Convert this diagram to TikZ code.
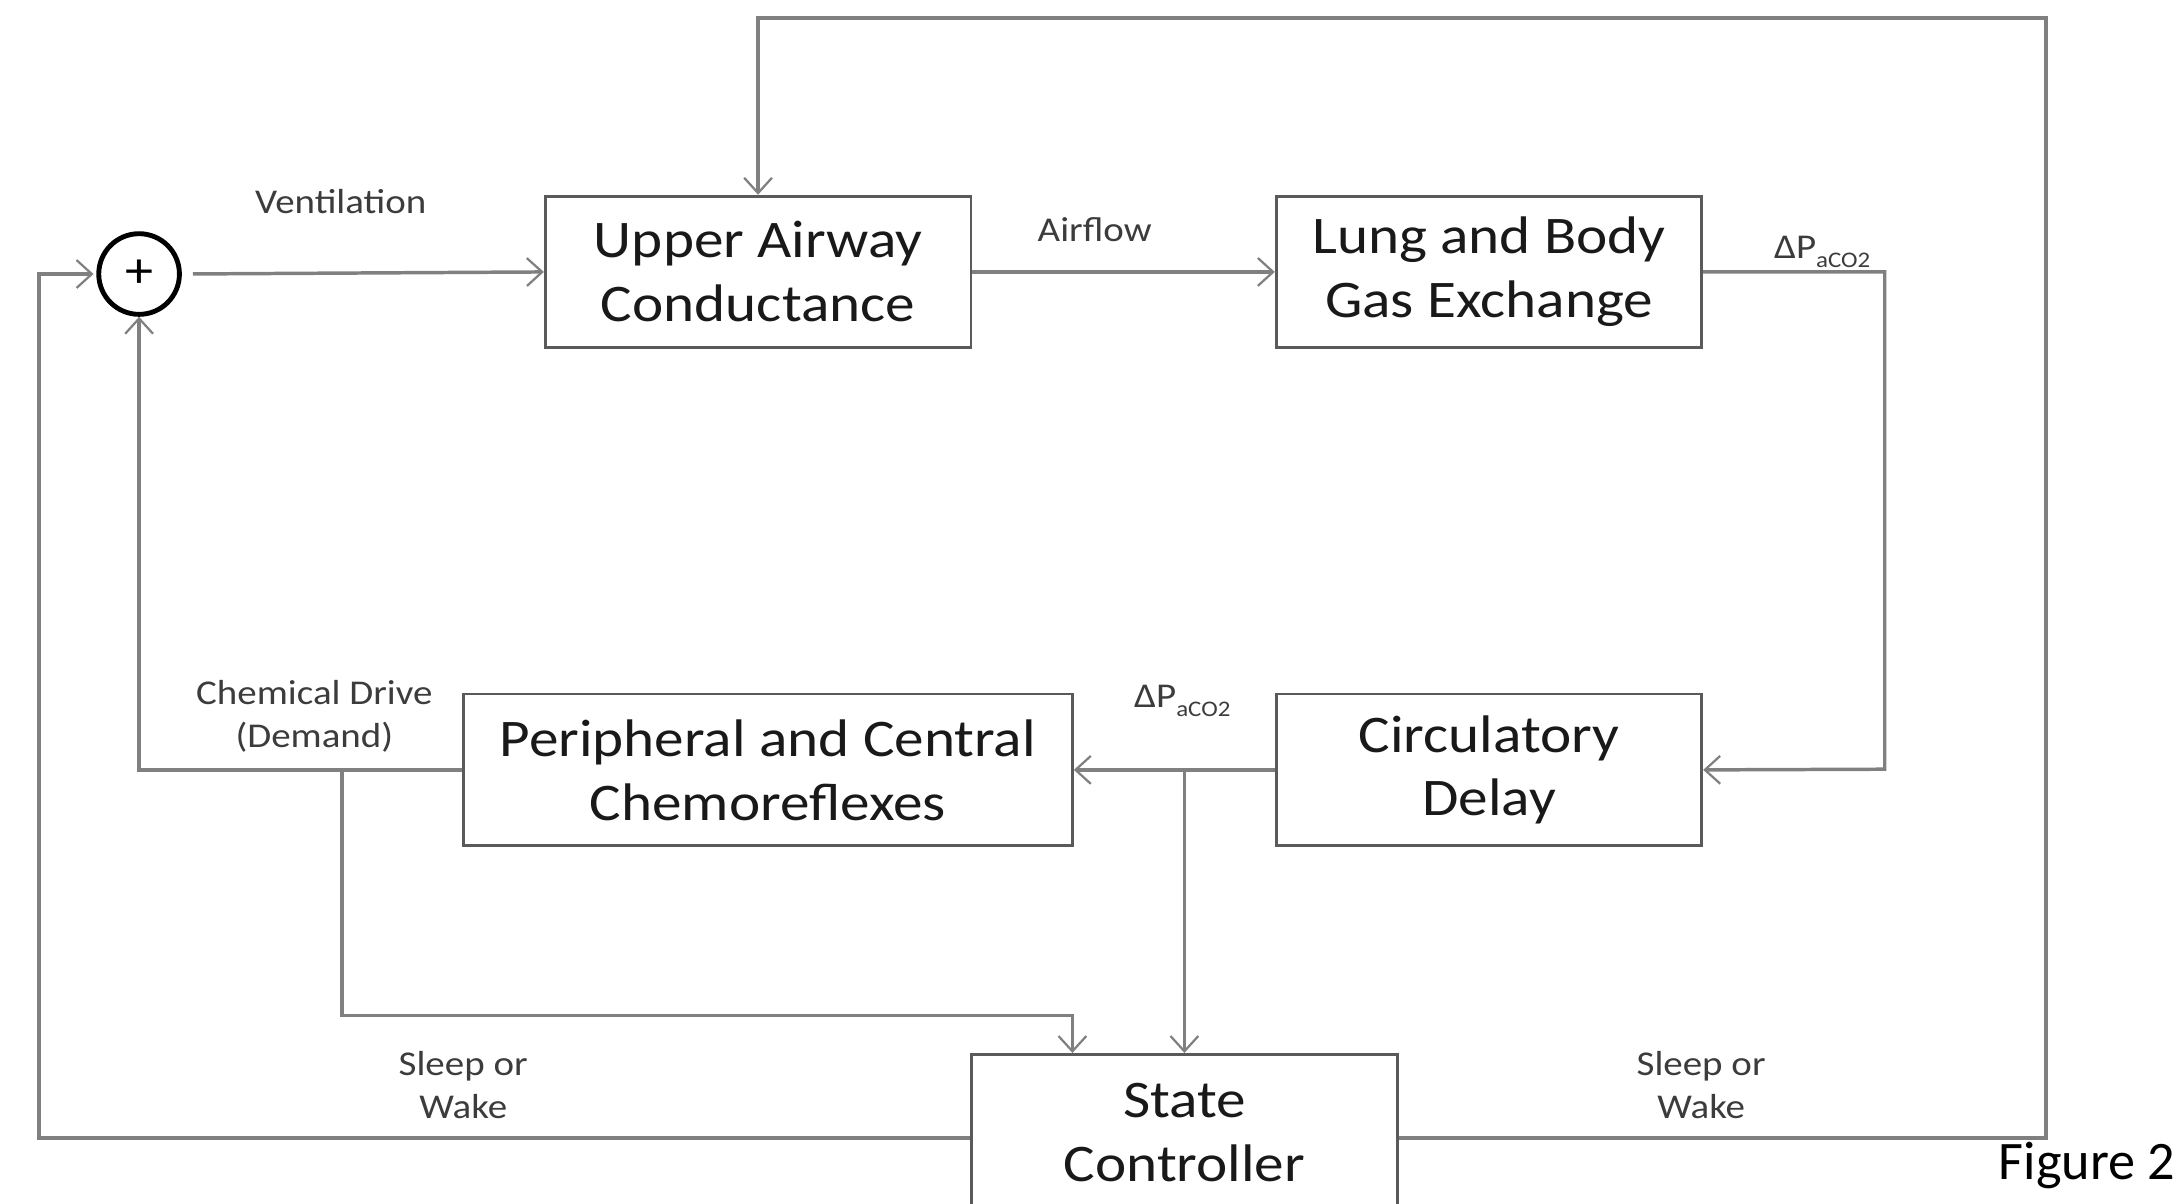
\documentclass[tikz,border=0pt]{standalone}
\usepackage{fontspec}
\setmainfont{Carlito}[FakeStretch=1.12]
\newfontfamily\figfont{Carlito}
\usetikzlibrary{arrows.meta}
\definecolor{linegray}{RGB}{128,128,128}
\definecolor{boxgray}{RGB}{90,90,90}
\definecolor{labgray}{RGB}{60,60,60}
\begin{document}
\begin{tikzpicture}[x=1pt,y=-1pt,
  blk/.style={draw=boxgray,line width=2pt,minimum width=306pt,minimum height=109pt,
    align=center,inner sep=0pt,text=black!90,font=\fontsize{38}{46}\selectfont},
  lab/.style={align=center,inner sep=0pt,text=labgray,font=\fontsize{25}{31}\selectfont},
  conn/.style={draw=linegray,line width=2.5pt},
  arr/.style={conn,-{Straight Barb[length=11pt,width=20pt,line width=1.6pt]}},
  sumnode/.style={circle,draw=black,line width=3.5pt,minimum size=58pt,inner sep=0pt,
    font=\fontsize{36}{36}\selectfont}]
\useasboundingbox (0,0) rectangle (1568,865);
\clip (0,0) rectangle (1568,865);
\fill[white] (0,0) rectangle (1568,865);

% blocks
\node[sumnode] (sum) at (100,197) {+};
\node[blk] (ua) at (545,195.5) {Upper Airway\\Conductance};
\node[blk] (lung) at (1070.5,195.5) {Lung and Body\\Gas Exchange};
\node[blk,minimum width=438pt] (per) at (552,553.5) {Peripheral and Central\\Chemoreflexes};
\node[blk] (circ) at (1070.5,553.5) {Circulatory\\Delay};
\node[blk,minimum height=112pt] (sc) at (851.5,814) {State\\Controller};

% corner coordinates
\coordinate (tr) at (1471,13);
\coordinate (bl) at (28,197);
\coordinate (rc) at (1355,553);
\coordinate (br1) at (sc.north |- circ.west);
\coordinate (br2) at (246,553.5);
\coordinate (k) at (771,730);

% connectors
\draw[arr,shorten <=8pt] (sum.east) -- (ua.west);
\draw[arr] (ua.east) -- (lung.west);
\draw[arr] (lung.east) -| (rc) -- (circ.east);
\draw[arr] (circ.west) -- (per.east);
\draw[arr] (br1) -- (sc.north);
\draw[arr] (per.west) -| (sum.south);
\draw[arr] (br2) |- (k) -- (k |- sc.north);
\draw[arr] ([yshift=-4pt]sc.east) -| (tr) -| (ua.north);
\draw[arr,shorten >=2pt] ([yshift=-4pt]sc.west) -| (bl) -- (sum.west);

% labels
\node[lab] (lv) at (245,145) {Ventilation};
\node[lab] (la) at (787,165) {Airflow};
\node[lab] (lp1) at (1310,181) {ΔP\raisebox{-0.25em}{\fontsize{16}{16}\selectfont aCO2}};
\node[lab] (lp2) at (850,504) {ΔP\raisebox{-0.25em}{\fontsize{16}{16}\selectfont aCO2}};
\node[lab] (lc) at (226,515) {Chemical Drive\\(Demand)};
\node[lab] (ls1) at (333,780) {Sleep or\\Wake};
\node[lab] (ls2) at (1223,780) {Sleep or\\Wake};
\node[anchor=east,inner sep=0pt,text=black,font=\figfont\fontsize{39}{39}\selectfont] (fig) at (1564,838) {Figure 2};
\end{tikzpicture}
\end{document}
